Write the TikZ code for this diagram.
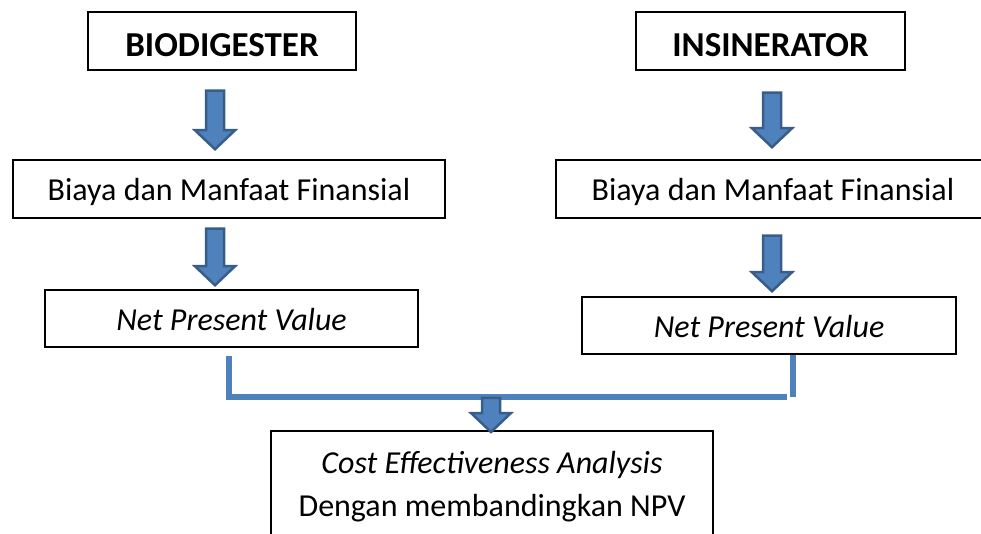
\documentclass[tikz,border=0pt]{standalone}
\usepackage{fontspec}
\setmainfont{Carlito}
\usetikzlibrary{positioning,calc}
\definecolor{arrowblue}{HTML}{4F81BD}
\definecolor{arrowedge}{HTML}{385D8A}
\tikzset{
    box/.style={draw, line width=1.5pt, inner sep=0pt, text height=24pt, text depth=0pt,
        font=\fontsize{32}{43}\selectfont},
    titlebox/.style={box, text height=32pt, font=\fontsize{35}{43}\selectfont\bfseries},
    joinline/.style={draw=arrowblue, line width=5.5pt},
    blockarrow/.style={fill=arrowblue, draw=arrowedge, line width=2.5pt}
}
% block arrow from a top point down to a tip point
\newcommand{\blockarrow}[2]{%
    \draw[blockarrow] let \p1=#1, \p2=#2 in
        (\x1-9pt,\y1) -- (\x1+9pt,\y1) -- (\x1+9pt,\y2+19pt) -- (\x1+20pt,\y2+19pt)
        -- (\x1,\y2) -- (\x1-20pt,\y2+19pt) -- (\x1-9pt,\y2+19pt) -- cycle;}

\begin{document}
\begin{tikzpicture}[x=1pt, y=-1pt]
    \useasboundingbox (0,0) rectangle (981,534);

    \node[titlebox, minimum width=268, minimum height=58] (bio) at (222,41) {BIODIGESTER};
    \node[titlebox, minimum width=269, minimum height=58] (ins) at (770.5,41) {INSINERATOR};

    \node[box, minimum width=432, minimum height=58] (cost1) at (229,189) {Biaya dan Manfaat Finansial};
    \node[box, minimum width=434, minimum height=58] (cost2) at (773,189) {Biaya dan Manfaat Finansial};

    \node[box, minimum width=373, minimum height=57] (npv1) at (231.5,318.5) {\textit{Net Present Value}};
    \node[box, minimum width=374, minimum height=57] (npv2) at (769,325.5) {\textit{Net Present Value}};

    \node[box, align=center, anchor=north, minimum width=442, text height=86pt, text depth=60pt] (cea) at (492,430)
        {\textit{Cost Effectiveness Analysis}\\Dengan membandingkan NPV};

    \blockarrow{($(bio.south)+(-7,20)$)}{($(cost1.north)+(-14,-10)$)}
    \blockarrow{($(cost1.south)+(-14,10)$)}{($(npv1.north)+(-16,-4)$)}
    \blockarrow{($(ins.south)+(1.5,22)$)}{($(cost2.north)+(-1,-12)$)}
    \blockarrow{($(cost2.south)+(-1,17)$)}{($(npv2.north)+(3,-5)$)}

    \coordinate (jl) at ($(npv1.south)+(-2.5,8)$);
    \coordinate (jr) at ($(npv2.south)+(18,42)$);
    \draw[joinline] (jl) |- (jr);
    \draw[joinline] ($(npv2.south)+(24,0)$) -- ++(0,42);

    \blockarrow{($(jl |- jr)+(262,1)$)}{($(cea.north)+(-1,2)$)}
\end{tikzpicture}
\end{document}
